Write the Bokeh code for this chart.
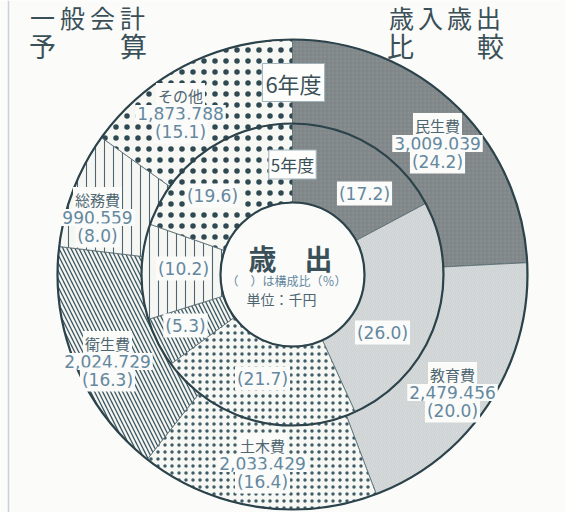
import numpy as np
from bokeh.plotting import figure
from bokeh.models import ColumnDataSource, Range1d, Span
from bokeh.core.properties import value
from bokeh.embed import file_html
from bokeh.resources import INLINE

# ---------------- data ----------------
categories = ["民生費", "教育費", "土木費", "衛生費", "総務費", "その他"]
amounts_r6 = [3009039, 2479456, 2033429, 2024729, 990559, 1873788]   # 千円
share_r6 = [24.2, 20.0, 16.4, 16.3, 8.0, 15.1]                        # 6年度 構成比
share_r5 = [17.2, 26.0, 21.7, 5.3, 10.2, 19.6]                        # 5年度 構成比

# ---------------- styles ----------------
fills = ["#888e8f", "#d6dadb", "#f7f7f4", "#f5f5f2", "#f6f6f3", "#f7f7f4"]
hatches = ["cross", "right_diagonal_line", "dot", "left_diagonal_line", "vertical_line", "dot"]
hatch_colors = ["#767c7d", "#c6cbcc", "#3f5d69", "#3a5661", "#4c6670", "#2f4953"]
hatch_scales = [4, 4, 7, 8, 9, 11]
hatch_weights = [0.6, 0.6, 1.0, 1.3, 1.1, 1.0]

W, H = 565, 512


def Y(y):
    return H - y


cx, cy = 292, 274
r_in, r_mid, r_out = 72, 151, 235

# label layout (reference pixel positions of each label block centre)
outer_pos = [(437, 143), (452, 392), (262, 463), (107, 361), (97, 217), (180, 113)]
inner_pos = [(364, 193), (382, 332), (262, 378), (185, 325), (183, 268), (212, 195)]
ROW = 18

ink = "#3a5058"
num_col = "#6388a0"
name_col = "#4d6570"
bg = "#fbfbf9"


def angles(shares):
    s = np.array(shares, dtype=float)
    cum = np.concatenate([[0.0], np.cumsum(s)]) / s.sum()
    start = np.pi / 2 - 2 * np.pi * cum[:-1]
    end = np.pi / 2 - 2 * np.pi * cum[1:]
    return start, end


p = figure(width=W, height=H, x_range=Range1d(0, W), y_range=Range1d(0, H),
           output_backend="svg", toolbar_location=None, min_border=0)
p.axis.visible = False
p.grid.visible = False
p.outline_line_color = None
p.background_fill_color = bg
p.border_fill_color = bg


def ring(shares, r0, r1):
    st, en = angles(shares)
    src = ColumnDataSource(dict(
        x=[cx] * len(shares), y=[Y(cy)] * len(shares), start=st, end=en,
        fill=fills, hatch=hatches, hc=hatch_colors, hs=hatch_scales, hw=hatch_weights))
    p.annular_wedge(x="x", y="y", inner_radius=r0, outer_radius=r1,
                    start_angle="start", end_angle="end", direction="clock",
                    fill_color="fill", hatch_pattern="hatch", hatch_color="hc",
                    hatch_scale="hs", hatch_weight="hw",
                    line_color="#52676f", line_width=0.8, source=src)


ring(share_r6, r_mid, r_out)
ring(share_r5, r_in, r_mid)

p.circle(x=[cx] * 3, y=[Y(cy)] * 3, radius=[r_in, r_mid, r_out],
         fill_color=None, line_color="#2c434b", line_width=2.2)

# outer labels
names = categories
amts = [f"{v:,}" for v in amounts_r6]
pcts6 = [f"({v:.1f})" for v in share_r6]
pcts5 = [f"({v:.1f})" for v in share_r5]

ox = [q[0] for q in outer_pos]
oy = [Y(q[1]) for q in outer_pos]

common = dict(text_align="center", text_baseline="middle",
              background_fill_color=bg, padding=2)

p.text(x=ox, y=[v + ROW for v in oy], text=names, text_font=value("Noto Sans CJK JP"),
       text_font_size="15px", text_color=name_col, **common)
p.text(x=ox, y=oy, text=amts, text_font=value("DejaVu Sans"),
       text_font_size="17px", text_color=num_col, **common)
p.text(x=ox, y=[v - ROW for v in oy], text=pcts6, text_font=value("DejaVu Sans"),
       text_font_size="17px", text_color=num_col, **common)

p.text(x=[q[0] for q in inner_pos], y=[Y(q[1]) for q in inner_pos], text=pcts5,
       text_font=value("DejaVu Sans"), text_font_size="17px", text_color=num_col, **common)

# year tags
p.text(x=[293], y=[Y(82)], text=["6年度"], text_font=value("Noto Sans CJK JP"),
       text_font_size="22px", text_color=ink, text_align="center", text_baseline="middle",
       background_fill_color="#fdfdfc", border_line_color="#9fb3bd", border_line_width=1,
       padding=3)
p.text(x=[292], y=[Y(164)], text=["5年度"], text_font=value("Noto Sans CJK JP"),
       text_font_size="17px", text_color=ink, text_align="center", text_baseline="middle",
       background_fill_color="#fdfdfc", border_line_color="#9fb3bd", border_line_width=1,
       padding=2)

# centre texts
p.text(x=[290], y=[Y(257)], text=["歳　出"], text_font=value("Noto Sans CJK JP"),
       text_font_size="28px", text_font_style="bold", text_color=ink,
       text_align="center", text_baseline="middle")
p.text(x=[286], y=[Y(280)], text=["（　）は構成比（％）"], text_font=value("Noto Sans CJK JP"),
       text_font_size="12px", text_color=num_col, text_align="center", text_baseline="middle")
p.text(x=[281], y=[Y(298)], text=["単位：千円"], text_font=value("Noto Sans CJK JP"),
       text_font_size="14px", text_color=name_col, text_align="center", text_baseline="middle")

# title (characters spaced like the original print)
title_row1 = list("一般会計") + list("歳入歳出")
title_row1_x = [42, 72, 102, 132, 401, 430, 459, 488]
title_row2 = ["予", "算", "比", "較"]
title_row2_x = [42, 133, 400, 490]
p.text(x=title_row1_x, y=[Y(16)] * 8, text=title_row1, text_font=value("Noto Sans CJK JP"),
       text_font_size="25px", text_color=ink, text_align="center", text_baseline="middle")
p.text(x=title_row2_x, y=[Y(45)] * 4, text=title_row2, text_font=value("Noto Sans CJK JP"),
       text_font_size="27px", text_color=ink, text_align="center", text_baseline="middle")

# frame
p.add_layout(Span(location=8, dimension="height", line_color="#c9d2d6", line_width=1.5))

open("out.html", "w").write(file_html(p, INLINE))
